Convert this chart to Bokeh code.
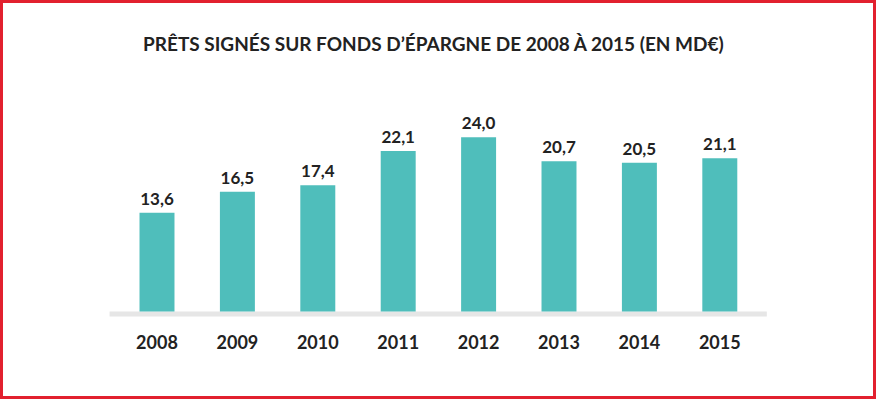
from bokeh.plotting import figure
from bokeh.models import ColumnDataSource, Range1d, Label
from bokeh.core.properties import value
from bokeh.embed import file_html
from bokeh.resources import INLINE

years = ["2008", "2009", "2010", "2011", "2012", "2013", "2014", "2015"]
amounts = [13.6, 16.5, 17.4, 22.1, 24.0, 20.7, 20.5, 21.1]
amount_labels = ["13,6", "16,5", "17,4", "22,1", "24,0", "20,7", "20,5", "21,1"]
title_text = "PRÊTS SIGNÉS SUR FONDS D’ÉPARGNE DE 2008 À 2015 (EN MD€)"

idx = list(range(len(years)))
src = ColumnDataSource(dict(x=idx, top=amounts, lab=amount_labels, year=years,
                            zero=[0] * len(years)))

W, H = 876, 399
p = figure(width=W, height=H, output_backend="svg", toolbar_location=None,
           x_range=Range1d(-1.9465, 8.949), y_range=Range1d(-12.12, 42.84),
           min_border=0, min_border_left=0, min_border_right=0,
           min_border_top=0, min_border_bottom=0)
p.xaxis.visible = False
p.yaxis.visible = False
p.grid.visible = False
p.background_fill_color = "white"
p.border_fill_color = "white"
p.outline_line_color = "#e2202f"
p.outline_line_width = 5

FONT = value("Lato")
DARK = "#222222"

# baseline band
p.quad(left=[-0.59], right=[len(years) - 1 + 0.585], top=[0], bottom=[-0.69],
       fill_color="#e6e6e6", line_color=None)

p.vbar(x="x", top="top", bottom=0, width=0.435, source=src,
       fill_color="#4fbebb", line_color=None)

p.text(x="x", y="top", text="lab", source=src, text_font=FONT,
       text_font_size="17px", text_font_style="bold", text_color=DARK,
       text_align="center", text_baseline="alphabetic", y_offset=-14)

p.text(x="x", y="zero", text="year", source=src, text_font=FONT,
       text_font_size="18px", text_font_style="bold", text_color=DARK,
       text_align="center", text_baseline="alphabetic", y_offset=30)

p.add_layout(Label(x=433.5, y=356, x_units="screen", y_units="screen",
                   text=title_text, text_font="Lato", text_font_size="19px",
                   text_font_style="bold", text_color=DARK,
                   text_align="center", text_baseline="alphabetic"))

open("out.html", "w").write(file_html(p, INLINE))
